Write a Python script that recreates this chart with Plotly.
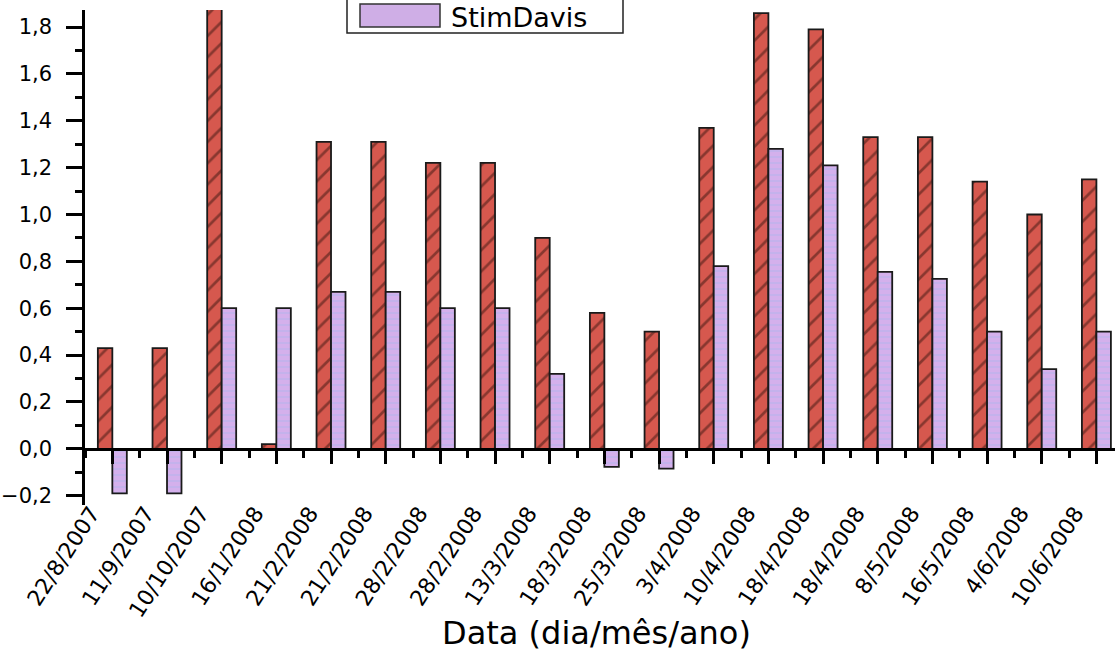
import plotly.graph_objects as go

# ---- data ----
dates = ["22/8/2007", "11/9/2007", "10/10/2007", "16/1/2008", "21/2/2008", "21/2/2008",
         "28/2/2008", "28/2/2008", "13/3/2008", "18/3/2008", "25/3/2008", "3/4/2008",
         "10/4/2008", "18/4/2008", "18/4/2008", "8/5/2008", "16/5/2008", "4/6/2008",
         "10/6/2008"]
red_series = [0.43, 0.43, 1.95, 0.02, 1.31, 1.31, 1.22, 1.22, 0.90, 0.58, 0.50, 1.37,
              1.86, 1.79, 1.33, 1.33, 1.14, 1.00, 1.15]
stimdavis = [-0.19, -0.19, 0.60, 0.60, 0.67, 0.67, 0.60, 0.60, 0.32, -0.077, -0.085, 0.78,
             1.28, 1.21, 0.755, 0.725, 0.50, 0.34, 0.50]
y_ticks = [-0.2, 0.0, 0.2, 0.4, 0.6, 0.8, 1.0, 1.2, 1.4, 1.6, 1.8]
legend_name = "StimDavis"
x_title = "Data (dia/mês/ano)"

# ---- layout geometry ----
W, H = 1115, 654
ML, MR, MT, MB = 85, 0, 10, 149
Y_RANGE = [-0.24, 1.873]
X_RANGE = [-0.5, 18.34]
pw, ph = W - ML - MR, H - MT - MB


def px_x(px):
    return (px - ML) / pw


def px_y(py):
    return (H - MB - py) / ph


pos = list(range(len(dates)))
zero_pos = (0 - Y_RANGE[0]) / (Y_RANGE[1] - Y_RANGE[0])

RED = "#d6584e"
PURPLE = "#d4b0ec"
FONT = "DejaVu Sans"

fig = go.Figure()
fig.add_trace(go.Bar(
    x=pos, y=red_series, name="Série", showlegend=False,
    marker=dict(color=RED, line=dict(color="#1a1a1a", width=1.8),
                pattern=dict(shape="/", fgcolor="#3a1510", size=15, solidity=0.18)),
))
fig.add_trace(go.Bar(
    x=pos, y=stimdavis, name=legend_name, showlegend=False,
    marker=dict(color=PURPLE, line=dict(color="#1a1a1a", width=1.8),
                pattern=dict(shape="-", fgcolor="#a9b4ec", size=6, solidity=0.25)),
))

fig.update_layout(
    width=W, height=H,
    margin=dict(l=ML, r=MR, t=MT, b=MB, autoexpand=False),
    paper_bgcolor="white", plot_bgcolor="white",
    barmode="group", bargap=0.47, bargroupgap=0,
    separators=", ",
    font=dict(family=FONT, color="black"),
    xaxis=dict(
        range=X_RANGE, tickmode="array", tickvals=pos, ticktext=dates,
        tickangle=-57, tickfont=dict(size=22, family=FONT, color="black"),
        anchor="free", position=zero_pos,
        showline=True, linecolor="black", linewidth=2.5,
        ticks="outside", ticklen=13, tickwidth=2.5, tickcolor="black",
        minor=dict(ticks="outside", ticklen=7, tickwidth=2.5, tickcolor="black",
                   tickmode="linear", tick0=0.5, dtick=1),
        ticklabelstandoff=28, ticklabelshift=-21,
        showgrid=False, zeroline=False, automargin=False,
    ),
    yaxis=dict(
        range=Y_RANGE, tickmode="array", tickvals=y_ticks, tickformat=".1f",
        tickfont=dict(size=21, family=FONT, color="black"),
        showline=True, linecolor="black", linewidth=2.5,
        ticks="outside", ticklen=16, tickwidth=2.5, tickcolor="black",
        minor=dict(ticks="outside", ticklen=7, tickwidth=2.5, tickcolor="black",
                   tickmode="linear", tick0=0, dtick=0.1),
        ticklabelstandoff=10,
        showgrid=False, zeroline=False, automargin=False,
    ),
)

# axis title
fig.add_annotation(text=x_title, xref="paper", yref="paper",
                   x=px_x(596), y=px_y(633), xanchor="center", yanchor="middle",
                   showarrow=False, font=dict(size=32, family=FONT, color="black"))

# legend box (partially cut off at the top, as in the reference)
fig.add_shape(type="rect", xref="paper", yref="paper",
              x0=px_x(347), x1=px_x(623), y0=px_y(33), y1=px_y(-20),
              line=dict(color="#222", width=1.5), fillcolor="rgba(0,0,0,0)")
fig.add_shape(type="rect", xref="paper", yref="paper",
              x0=px_x(360), x1=px_x(440), y0=px_y(27), y1=px_y(4),
              line=dict(color="#333", width=1.5), fillcolor="#cfaee6")
fig.add_annotation(text=legend_name, xref="paper", yref="paper",
                   x=px_x(449), y=px_y(35), xanchor="left", yanchor="bottom",
                   showarrow=False, font=dict(size=27, family=FONT, color="black"))

fig.write_html("out.html",
               config={"displayModeBar": False},
               post_script="document.body.style.margin='0';"
                           "document.body.style.overflow='hidden';")
